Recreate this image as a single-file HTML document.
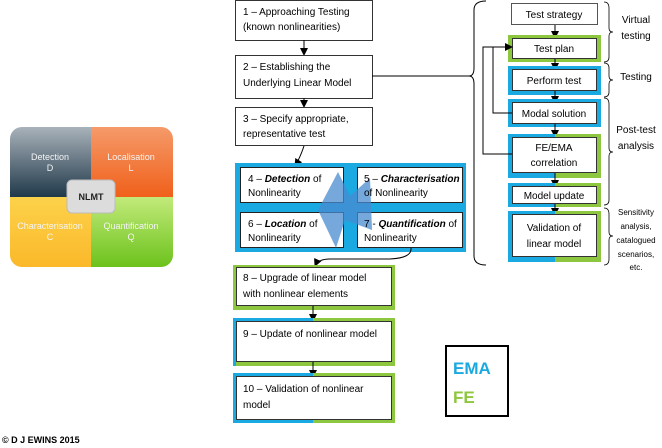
<!DOCTYPE html>
<html><head><meta charset="utf-8"><style>
html,body{margin:0;padding:0;background:#fff;}
svg{display:block;font-family:"Liberation Sans",sans-serif;}
</style></head><body>
<svg width="662" height="448" viewBox="0 0 662 448" xmlns="http://www.w3.org/2000/svg">
<defs>
<marker id="a" markerWidth="8" markerHeight="8" refX="7" refY="4" orient="auto" markerUnits="userSpaceOnUse"><path d="M0,0 L8,4 L0,8 z" fill="#000"/></marker>
<linearGradient id="gD" x1="0" y1="0" x2="0" y2="1"><stop offset="0" stop-color="#a9b2ba"/><stop offset="1" stop-color="#20394a"/></linearGradient>
<linearGradient id="gL" x1="0" y1="0" x2="0" y2="1"><stop offset="0" stop-color="#f59a6a"/><stop offset="1" stop-color="#f0601a"/></linearGradient>
<linearGradient id="gC" x1="0" y1="0" x2="0" y2="1"><stop offset="0" stop-color="#fcd24a"/><stop offset="1" stop-color="#fbb82a"/></linearGradient>
<linearGradient id="gQ" x1="0" y1="0" x2="0" y2="1"><stop offset="0" stop-color="#c2ea7a"/><stop offset="1" stop-color="#6cc21c"/></linearGradient>
<clipPath id="qc"><rect x="10" y="127" width="163" height="140" rx="12"/></clipPath>
</defs>
<g font-size="10">
<g clip-path="url(#qc)">
<rect x="10" y="127" width="81" height="70" fill="url(#gD)"/>
<rect x="91" y="127" width="82" height="70" fill="url(#gL)"/>
<rect x="10" y="197" width="81" height="70" fill="url(#gC)"/>
<rect x="91" y="197" width="82" height="70" fill="url(#gQ)"/>
</g>
<g fill="#f4f4f4" font-size="9" text-anchor="middle">
<text x="50" y="160">Detection</text><text x="50" y="171">D</text>
<text x="131" y="160">Localisation</text><text x="131" y="171">L</text>
<text x="50" y="229">Characterisation</text><text x="50" y="240">C</text>
<text x="131" y="229">Quantification</text><text x="131" y="240">Q</text>
</g>
<rect x="67" y="180" width="48" height="33" rx="5" fill="#dcdcdc" stroke="#bbb"/>
<text x="91" y="200" text-anchor="middle" font-weight="bold" font-size="9" fill="#222">NLMT</text>
<text x="2" y="443" font-weight="bold" font-size="9">© D J EWINS 2015</text>

<rect x="235.5" y="0.5" width="137" height="40" fill="#fff" stroke="#333"/>
<text x="243" y="15">1 – Approaching Testing</text><text x="243" y="30">(known nonlinearities)</text>
<line x1="304" y1="40" x2="304" y2="55" stroke="#000" marker-end="url(#a)"/>
<rect x="235.5" y="55.5" width="137" height="43" fill="#fff" stroke="#333"/>
<text x="243" y="70">2 – Establishing the</text><text x="243" y="86">Underlying Linear Model</text>
<line x1="304" y1="98" x2="304" y2="107" stroke="#000" marker-end="url(#a)"/>
<rect x="235.5" y="107.5" width="137" height="38" fill="#fff" stroke="#333"/>
<text x="243" y="122">3 – Specify appropriate,</text><text x="243" y="137">representative test</text>
<path d="M304,146 Q300,158 295,166" fill="none" stroke="#000" marker-end="url(#a)"/>

<rect x="235" y="163" width="231" height="89" fill="#1ba9e1"/>
<rect x="240.5" y="167.5" width="103" height="35" fill="#fff" stroke="#222"/>
<rect x="357.5" y="167.5" width="105" height="35" fill="#fff" stroke="#222"/>
<rect x="240.5" y="212.5" width="103" height="35" fill="#fff" stroke="#222"/>
<rect x="357.5" y="212.5" width="105" height="35" fill="#fff" stroke="#222"/>
<path d="M338,172 L318,210 L336,248 L345,220 L372,230 L370,178 L350,196 Z" fill="#4a8bd0" opacity="0.75"/>
<text x="248" y="182">4 – <tspan font-weight="bold" font-style="italic">Detection</tspan> of</text><text x="248" y="196">Nonlinearity</text>
<text x="364" y="182">5 – <tspan font-weight="bold" font-style="italic">Characterisation</tspan></text><text x="364" y="196">of Nonlinearity</text>
<text x="248" y="227">6 – <tspan font-weight="bold" font-style="italic">Location</tspan> of</text><text x="248" y="241">Nonlinearity</text>
<text x="364" y="227">7 - <tspan font-weight="bold" font-style="italic">Quantification</tspan> of</text><text x="364" y="241">Nonlinearity</text>
<path d="M411,248 Q412,258 390,259 L330,259 Q318,259 315,266" fill="none" stroke="#000" marker-end="url(#a)"/>

<rect x="233" y="265" width="162" height="45" fill="#8dc63f"/>
<rect x="236.5" y="267.5" width="155" height="38" fill="#fff" stroke="#333"/>
<text x="243" y="281">8 – Upgrade of linear model</text><text x="243" y="297">with nonlinear elements</text>
<line x1="313" y1="306" x2="313" y2="321" stroke="#000" marker-end="url(#a)"/>
<rect x="233" y="318" width="162" height="48" fill="#8dc63f"/>
<path d="M233,318 H313 V322 H236 V366 H233 Z" fill="#1ba9e1"/>
<rect x="236.5" y="321.5" width="155" height="40" fill="#fff" stroke="#333"/>
<text x="243" y="337">9 – Update of nonlinear model</text>
<line x1="313" y1="362" x2="313" y2="377" stroke="#000" marker-end="url(#a)"/>
<rect x="233" y="373" width="162" height="50" fill="#8dc63f"/>
<path d="M233,373 H313 V377 H236 V420 H313 V423 H233 Z" fill="#1ba9e1"/>
<rect x="236.5" y="376.5" width="155" height="43" fill="#fff" stroke="#333"/>
<text x="243" y="392">10 – Validation of nonlinear</text><text x="243" y="408">model</text>

<rect x="446" y="346" width="62" height="70" fill="#fff" stroke="#000" stroke-width="2"/>
<text x="453" y="374" font-size="17" font-weight="bold" fill="#1ba9e1">EMA</text>
<text x="453" y="403" font-size="17" font-weight="bold" fill="#8dc63f">FE</text>

<line x1="372" y1="76" x2="470" y2="76" stroke="#000"/>
<path d="M486,1 Q474,1 474,10 L474,68 Q474,76 469,76 Q474,76 474,84 L474,256 Q474,265 486,265" fill="none" stroke="#000"/>

<rect x="511.5" y="3.5" width="86" height="21" fill="#fff" stroke="#555"/>
<text x="554" y="18" text-anchor="middle">Test strategy</text>
<line x1="555" y1="25" x2="555" y2="38" stroke="#000" marker-end="url(#a)"/>
<rect x="508" y="35" width="93" height="27" fill="#8dc63f"/>
<rect x="512.5" y="38.5" width="84" height="20" fill="#fff" stroke="#333"/>
<text x="554" y="52" text-anchor="middle">Test plan</text>
<line x1="555" y1="59" x2="555" y2="70" stroke="#000" marker-end="url(#a)"/>
<rect x="508" y="66" width="93" height="29" fill="#1ba9e1"/>
<rect x="512.5" y="69.5" width="84" height="21" fill="#fff" stroke="#333"/>
<text x="554" y="84" text-anchor="middle">Perform test</text>
<line x1="555" y1="91" x2="555" y2="103" stroke="#000" marker-end="url(#a)"/>
<rect x="508" y="99" width="93" height="28" fill="#1ba9e1"/>
<rect x="512.5" y="102.5" width="84" height="21" fill="#fff" stroke="#333"/>
<text x="554" y="117" text-anchor="middle">Modal solution</text>
<line x1="555" y1="124" x2="555" y2="137" stroke="#000" marker-end="url(#a)"/>
<rect x="508" y="134" width="93" height="44" fill="#8dc63f"/>
<path d="M508,134 H555 V137 H512 V172 H555 V178 H508 Z" fill="#1ba9e1"/>
<rect x="512.5" y="137.5" width="84" height="35" fill="#fff" stroke="#333"/>
<text x="554" y="151" text-anchor="middle">FE/EMA</text><text x="554" y="166" text-anchor="middle">correlation</text>
<line x1="555" y1="173" x2="555" y2="187" stroke="#000" marker-end="url(#a)"/>
<rect x="508" y="183" width="93" height="24" fill="#8dc63f"/>
<path d="M508,183 H555 V186 H512 V203 H555 V207 H508 Z" fill="#1ba9e1"/>
<rect x="512.5" y="186.5" width="84" height="17" fill="#fff" stroke="#333"/>
<text x="554" y="199" text-anchor="middle">Model update</text>
<line x1="555" y1="204" x2="555" y2="215" stroke="#000" marker-end="url(#a)"/>
<rect x="508" y="211" width="93" height="51" fill="#8dc63f"/>
<path d="M508,211 H555 V214 H512 V256 H555 V262 H508 Z" fill="#1ba9e1"/>
<rect x="512.5" y="214.5" width="84" height="42" fill="#fff" stroke="#333"/>
<text x="554" y="231" text-anchor="middle">Validation of</text><text x="554" y="247" text-anchor="middle">linear model</text>

<polyline points="512,113 493,113 493,47 512,47" fill="none" stroke="#000" marker-end="url(#a)"/>
<polyline points="512,154 483,154 483,47 493,47" fill="none" stroke="#000"/>

<g fill="none" stroke="#000" stroke-width="0.8">
<path d="M604,2 Q609,2 609,8 L609,28 Q609,32 613,32 Q609,32 609,36 L609,57 Q609,62 604,62"/>
<path d="M604,63 Q609,63 609,68 L609,76 Q609,80 613,80 Q609,80 609,84 L609,92 Q609,97 604,97"/>
<path d="M604,98 Q609,98 609,104 L609,148 Q609,152 613,152 Q609,152 609,156 L609,200 Q609,205 604,205"/>
<path d="M604,208 Q609,208 609,214 L609,232 Q609,236 613,236 Q609,236 609,240 L609,259 Q609,265 604,265"/>
</g>
<g text-anchor="middle">
<text x="636" y="23">Virtual</text><text x="636" y="39">testing</text>
<text x="636" y="80">Testing</text>
<text x="636" y="133">Post-test</text><text x="636" y="149">analysis</text>
<g font-size="8"><text x="636" y="215">Sensitivity</text><text x="636" y="229">analysis,</text><text x="636" y="243">catalogued</text><text x="636" y="257">scenarios,</text><text x="636" y="270">etc.</text></g>
</g>
</g>
</svg>
</body></html>
